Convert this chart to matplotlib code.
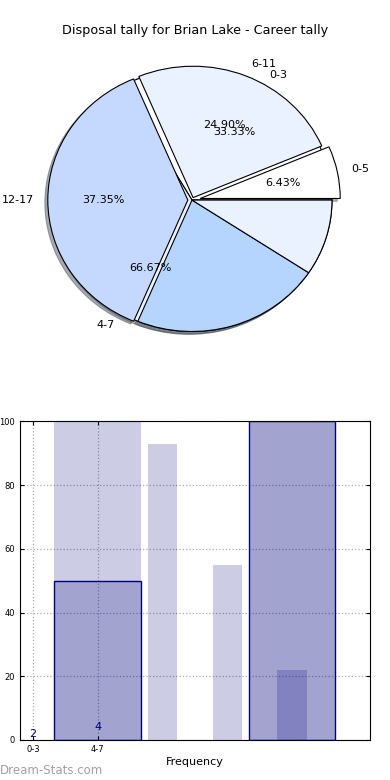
import matplotlib
matplotlib.use('Agg')
import matplotlib.pyplot as plt

# pie data (two tallies drawn on top of each other)
age_labels = ['0-5', '6-11', '12-17', '', '']
age_pct = [6.43, 24.90, 37.35, 22.00, 9.32]
age_colors = ['#ffffff', '#eaf1ff', '#c5d9ff', '#b5d5ff', '#eaf1ff']
age_explode = [0.06, 0.02, 0.03, 0.0, 0.0]

yrs_labels = ['0-3', '4-7']
yrs_pct = [33.33, 66.67]
yrs_colors = ['#ffffff', '#eaf1ff']

# bar data
bar_ticks = [0, 1]
bar_ticklabels = ['0-3', '4-7']
wide_x = [1, 4]
wide_h = [100, 100]
edge_x = [1, 4]
edge_h = [50, 100]
narrow_x = [2, 3, 4]
narrow_h = [93, 55, 22]
count_x = [0, 1]
count_v = [2, 4]

fig = plt.figure(figsize=(3.9, 7.8), dpi=100)

# ---- pie ----
shadow = {'ox': -0.015, 'oy': -0.015, 'shade': 0.6}
ax1 = fig.add_axes([0.0, 0.5385, 1.0, 0.410])
ax1.pie(yrs_pct, labels=yrs_labels, colors=yrs_colors, autopct='%1.2f%%',
        shadow=shadow, startangle=0, textprops={'fontsize': 8},
        wedgeprops={'edgecolor': 'black', 'linewidth': 0.8})
w, t, at = ax1.pie(age_pct, labels=age_labels, colors=age_colors, explode=age_explode,
                   autopct='%1.2f%%', shadow=shadow, startangle=0,
                   textprops={'fontsize': 8},
                   wedgeprops={'edgecolor': 'black', 'linewidth': 0.8})
for a in at[3:]:
    a.set_visible(False)
ax1.set_aspect('auto')
ax1.set_xlim(-192 / 140, 198 / 140)
ax1.set_ylim(-160 / 131.5, 160 / 131.5)
ax1.axis('off')
fig.text(0.5, 0.961, 'Disposal tally for Brian Lake - Career tally', ha='center',
         va='center', fontsize=9.2)

# ---- bars ----
navy_a = (0, 0, 0.5, 0.2)
ax2 = fig.add_axes([0.0505, 0.0513, 0.899, 0.4086])
ax2.bar(wide_x, wide_h, width=1.34, color=navy_a, linewidth=0)
ax2.bar(edge_x, edge_h, width=1.34, facecolor=navy_a, edgecolor='navy', linewidth=1)
ax2.bar(narrow_x, narrow_h, width=0.45, color=navy_a, linewidth=0)
for x, v in zip(count_x, count_v):
    ax2.text(x, v, str(v), color='navy', ha='center', va='center', fontsize=8)

ax2.set_xlim(-0.206, 5.21)
ax2.set_ylim(0, 100)
ax2.set_xticks(bar_ticks)
ax2.set_xticklabels(bar_ticklabels)
ax2.set_yticks([0, 20, 40, 60, 80, 100])
ax2.tick_params(direction='in', top=True, right=True, labelsize=6, length=3)
ax2.grid(True, linestyle=':', color='#aaaaaa', linewidth=0.9)
ax2.set_axisbelow(True)
ax2.set_xlabel('Frequency', fontsize=8, labelpad=2)

fig.text(0.0, 0.0125, 'Dream-Stats.com', color='#a0a0a0', fontsize=8.5,
         ha='left', va='center')

fig.savefig('out.png', dpi=100)
